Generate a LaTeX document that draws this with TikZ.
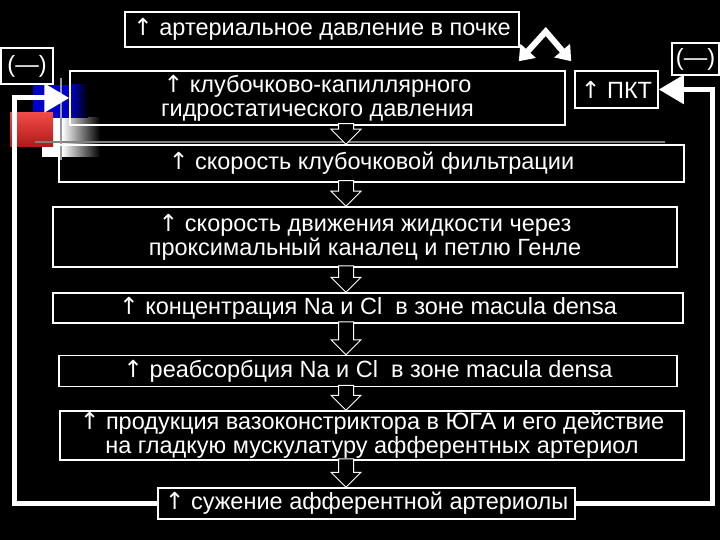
\documentclass[tikz,border=0pt]{standalone}
\usepackage{fontspec}
\setmainfont{Liberation Sans}
\newfontfamily\arrowfont{DejaVu Sans}
\usetikzlibrary{arrows.meta,calc}
\newcommand{\incr}{{\arrowfont ↑}\ }
\newcommand{\hollowarrow}[2]{%
	\draw[hollow] ($(#1.south -| axis)+(-7.5,-2)$) -- ($(#2.north -| axis)+(-7.5,-15)$) -- ++(-7.5,0) -- (#2.north -| axis)
		-- ($(#2.north -| axis)+(15,-15)$) -- ++(-7.5,0) -- ($(#1.south -| axis)+(7.5,-2)$) -- cycle;}
\tikzset{every picture/.style={line width=0.75pt}}
\begin{document}
\begin{tikzpicture}[x=1pt,y=-1pt,
		stage/.style={shape=rectangle, draw=white, line width=1.5pt, text=white, align=center,
			inner sep=0pt, font=\fontsize{23.5}{24}\selectfont},
		feedback/.style={draw=white, line width=5pt, -{Triangle[length=25pt,width=28pt]}},
		chevron/.style={draw=white, line width=6pt, {Triangle[length=14pt,width=20pt]}-{Triangle[length=14pt,width=20pt]}},
		hollow/.style={draw=white, fill=black, line width=1pt, line join=miter}
	]
	\path[use as bounding box, fill=black] (0,0) rectangle (720,540);
	\fill[white] (42,118) rectangle (62,157);
	\shade[left color=white, right color=black] (62,118) rectangle (100,157);
	\fill[blue!80!black] (33,85) rectangle (70,118);
	\shade[left color=blue!80!black, right color=black] (70,85) rectangle (88,118);
	\shade[top color={rgb,255:red,240;green,75;blue,70}, bottom color={rgb,255:red,175;green,25;blue,25}] (10,113) rectangle (53,147);
	\draw[gray, line width=2.5pt] (35,142) -- (665,142);
	\draw[gray!80, line width=2pt] (61,78) -- (61,160);
	\coordinate (axis) at (346,0);
	\coordinate (lrail) at (14.5,0);
	\coordinate (rrail) at (712,0);
	\node[stage, minimum width=394, minimum height=35] (press) at (322,29.5) {\incr артериальное давление в почке};
	\node[stage, minimum width=52, minimum height=36] (negl) at (27,66) {(—)};
	\node[stage, minimum width=495, minimum height=54] (glom) at (317.5,98) {\incr клубочково-капиллярного\\гидростатического давления};
	\node[stage, minimum width=83, minimum height=37] (pkt) at (616.5,89.5) {\incr ПКТ};
	\node[stage, minimum width=47, minimum height=32] (negr) at (695.5,59) {(—)};
	\node[stage, minimum width=625, minimum height=37] (gfr) at (371.5,163.5) {\incr скорость клубочковой фильтрации};
	\node[stage, minimum width=624, minimum height=60] (flow) at (365,237) {\incr скорость движения жидкости через\\проксимальный каналец и петлю Генле};
	\node[stage, minimum width=630, minimum height=30] (conc) at (368,308) {\incr концентрация Na и Cl\ \ в зоне macula densa};
	\node[stage, minimum width=618, minimum height=31] (reabs) at (368,371) {\incr реабсорбция Na и Cl\ \ в зоне macula densa};
	\node[stage, minimum width=624, minimum height=49] (vaso) at (372,435.5) {\incr продукция вазоконстриктора в ЮГА и его действие\\на гладкую мускулатуру афферентных артериол};
	\node[stage, minimum width=417, minimum height=31] (constr) at (366.5,503.5) {\incr сужение афферентной артериолы};
	\hollowarrow{glom}{gfr}
	\hollowarrow{gfr}{flow}
	\hollowarrow{flow}{conc}
	\hollowarrow{conc}{reabs}
	\hollowarrow{reabs}{vaso}
	\hollowarrow{vaso}{constr}
	\draw[feedback] (constr.west) -| (lrail |- glom.west) -- (glom.west);
	\draw[feedback] (constr.east) -| (rrail |- pkt.east) -- (pkt.east);
	\coordinate (peak) at ($(press.east)+(26,2)$);
	\coordinate (ltip) at ($(glom.north east)+(-47,-9)$);
	\coordinate (rtip) at ($(pkt.north west)+(-3,-9)$);
	\draw[chevron] (ltip) -- (peak) -- (rtip);
\end{tikzpicture}
\end{document}
